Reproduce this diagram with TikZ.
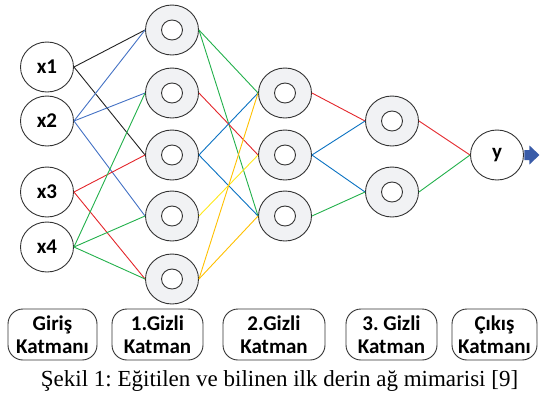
\documentclass[tikz,border=0pt]{standalone}
\usepackage{fontspec}
\setmainfont{Liberation Serif}
\newfontfamily\lblfont{Carlito}
\usetikzlibrary{shapes.geometric}
\frenchspacing
\definecolor{hidfill}{HTML}{F1F2F4}
\definecolor{edgek}{HTML}{222222}
\definecolor{edgeb}{HTML}{4472C4}
\definecolor{edger}{HTML}{E3262B}
\definecolor{edgeg}{HTML}{22B04B}
\definecolor{edgedb}{HTML}{0A72C2}
\definecolor{edgey}{HTML}{FFE81A}
\definecolor{edgeo}{HTML}{FFC000}
\definecolor{arrowc}{HTML}{3A5CA8}
\tikzset{
  unit/.style={ellipse, draw=black!80, line width=0.9pt, minimum width=53pt, minimum height=50pt,
    inner sep=0pt, font=\lblfont\bfseries\fontsize{21}{23}\selectfont},
  hid/.style={unit, fill=hidfill, path picture={
    \draw[black!80, line width=0.9pt, fill=white] (path picture bounding box.center) ellipse (10.5pt and 10pt);}},
  layerbox/.style={draw=black!80, line width=0.9pt, rounded corners=15pt, minimum height=51pt,
    inner sep=0pt, align=center, font=\lblfont\bfseries\fontsize{21}{23}\selectfont},
  link/.style={line width=0.9pt},
}
\begin{document}
\begin{tikzpicture}[x=1pt,y=-1pt]
	\useasboundingbox (0,0) rectangle (540,399);
	% units of each layer
	\foreach \i/\yy in {1/67,2/121,3/192,4/247}
		\node[unit] (x\i) at (47,\yy) {x\i};
	\foreach \i/\yy in {1/30,2/93,3/155,4/216,5/279}
		\node[hid] (a\i) at (172,\yy) {};
	\foreach \i/\yy in {1/93,2/155,3/216}
		\node[hid] (b\i) at (285,\yy) {};
	\foreach \i/\yy in {1/121,2/192}
		\node[hid] (c\i) at (392,\yy) {};
	\node[unit] (y) at (497,155) {y};
	% weights
	\foreach \s/\t/\c in {x1/a1/edgek, x1/a3/edgek, x2/a1/edgeb, x2/a2/edgeb, x2/a4/edgeb,
		x3/a3/edger, x3/a5/edger, x4/a2/edgeg, x4/a4/edgeg, x4/a5/edgeg,
		a1/b1/edgeg, a1/b3/edgeg, a2/b2/edger, a3/b1/edgedb, a3/b3/edgedb,
		a4/b2/edgey, a5/b1/edgeo, a5/b3/edgeo,
		b1/c1/edger, b2/c1/edgedb, b2/c2/edgedb, b3/c2/edgeg,
		c1/y/edger, c2/y/edgeg}
		\draw[link, draw=\c] (\s.east) -- (\t.west);
	\fill[arrowc] (y.east) ++(0.5,-5) -- ++(5,0) -- ++(0,-4.5) -- ++(10,9.5) -- ++(-10,9.5) -- ++(0,-4.5) -- ++(-5,0) -- cycle;
	% layer names
	\node[layerbox, minimum width=89pt] (lin) at (52.5,334.5) {Giriş\\Katmanı};
	\node[layerbox, minimum width=91pt] (lh1) at (157.5,334.5) {1.Gizli\\Katman};
	\node[layerbox, minimum width=102pt] (lh2) at (274,334.5) {2.Gizli\\Katman};
	\node[layerbox, minimum width=91pt] (lh3) at (391.5,334.5) {3. Gizli\\Katman};
	\node[layerbox, minimum width=85pt] (lout) at (494.5,334.5) {Çıkış\\Katmanı};
	\node[anchor=base, font=\fontsize{23}{26}\selectfont] (cap) at (279.5,386) {Şekil 1: Eğitilen ve bilinen ilk derin ağ mimarisi [9]};
\end{tikzpicture}
\end{document}
